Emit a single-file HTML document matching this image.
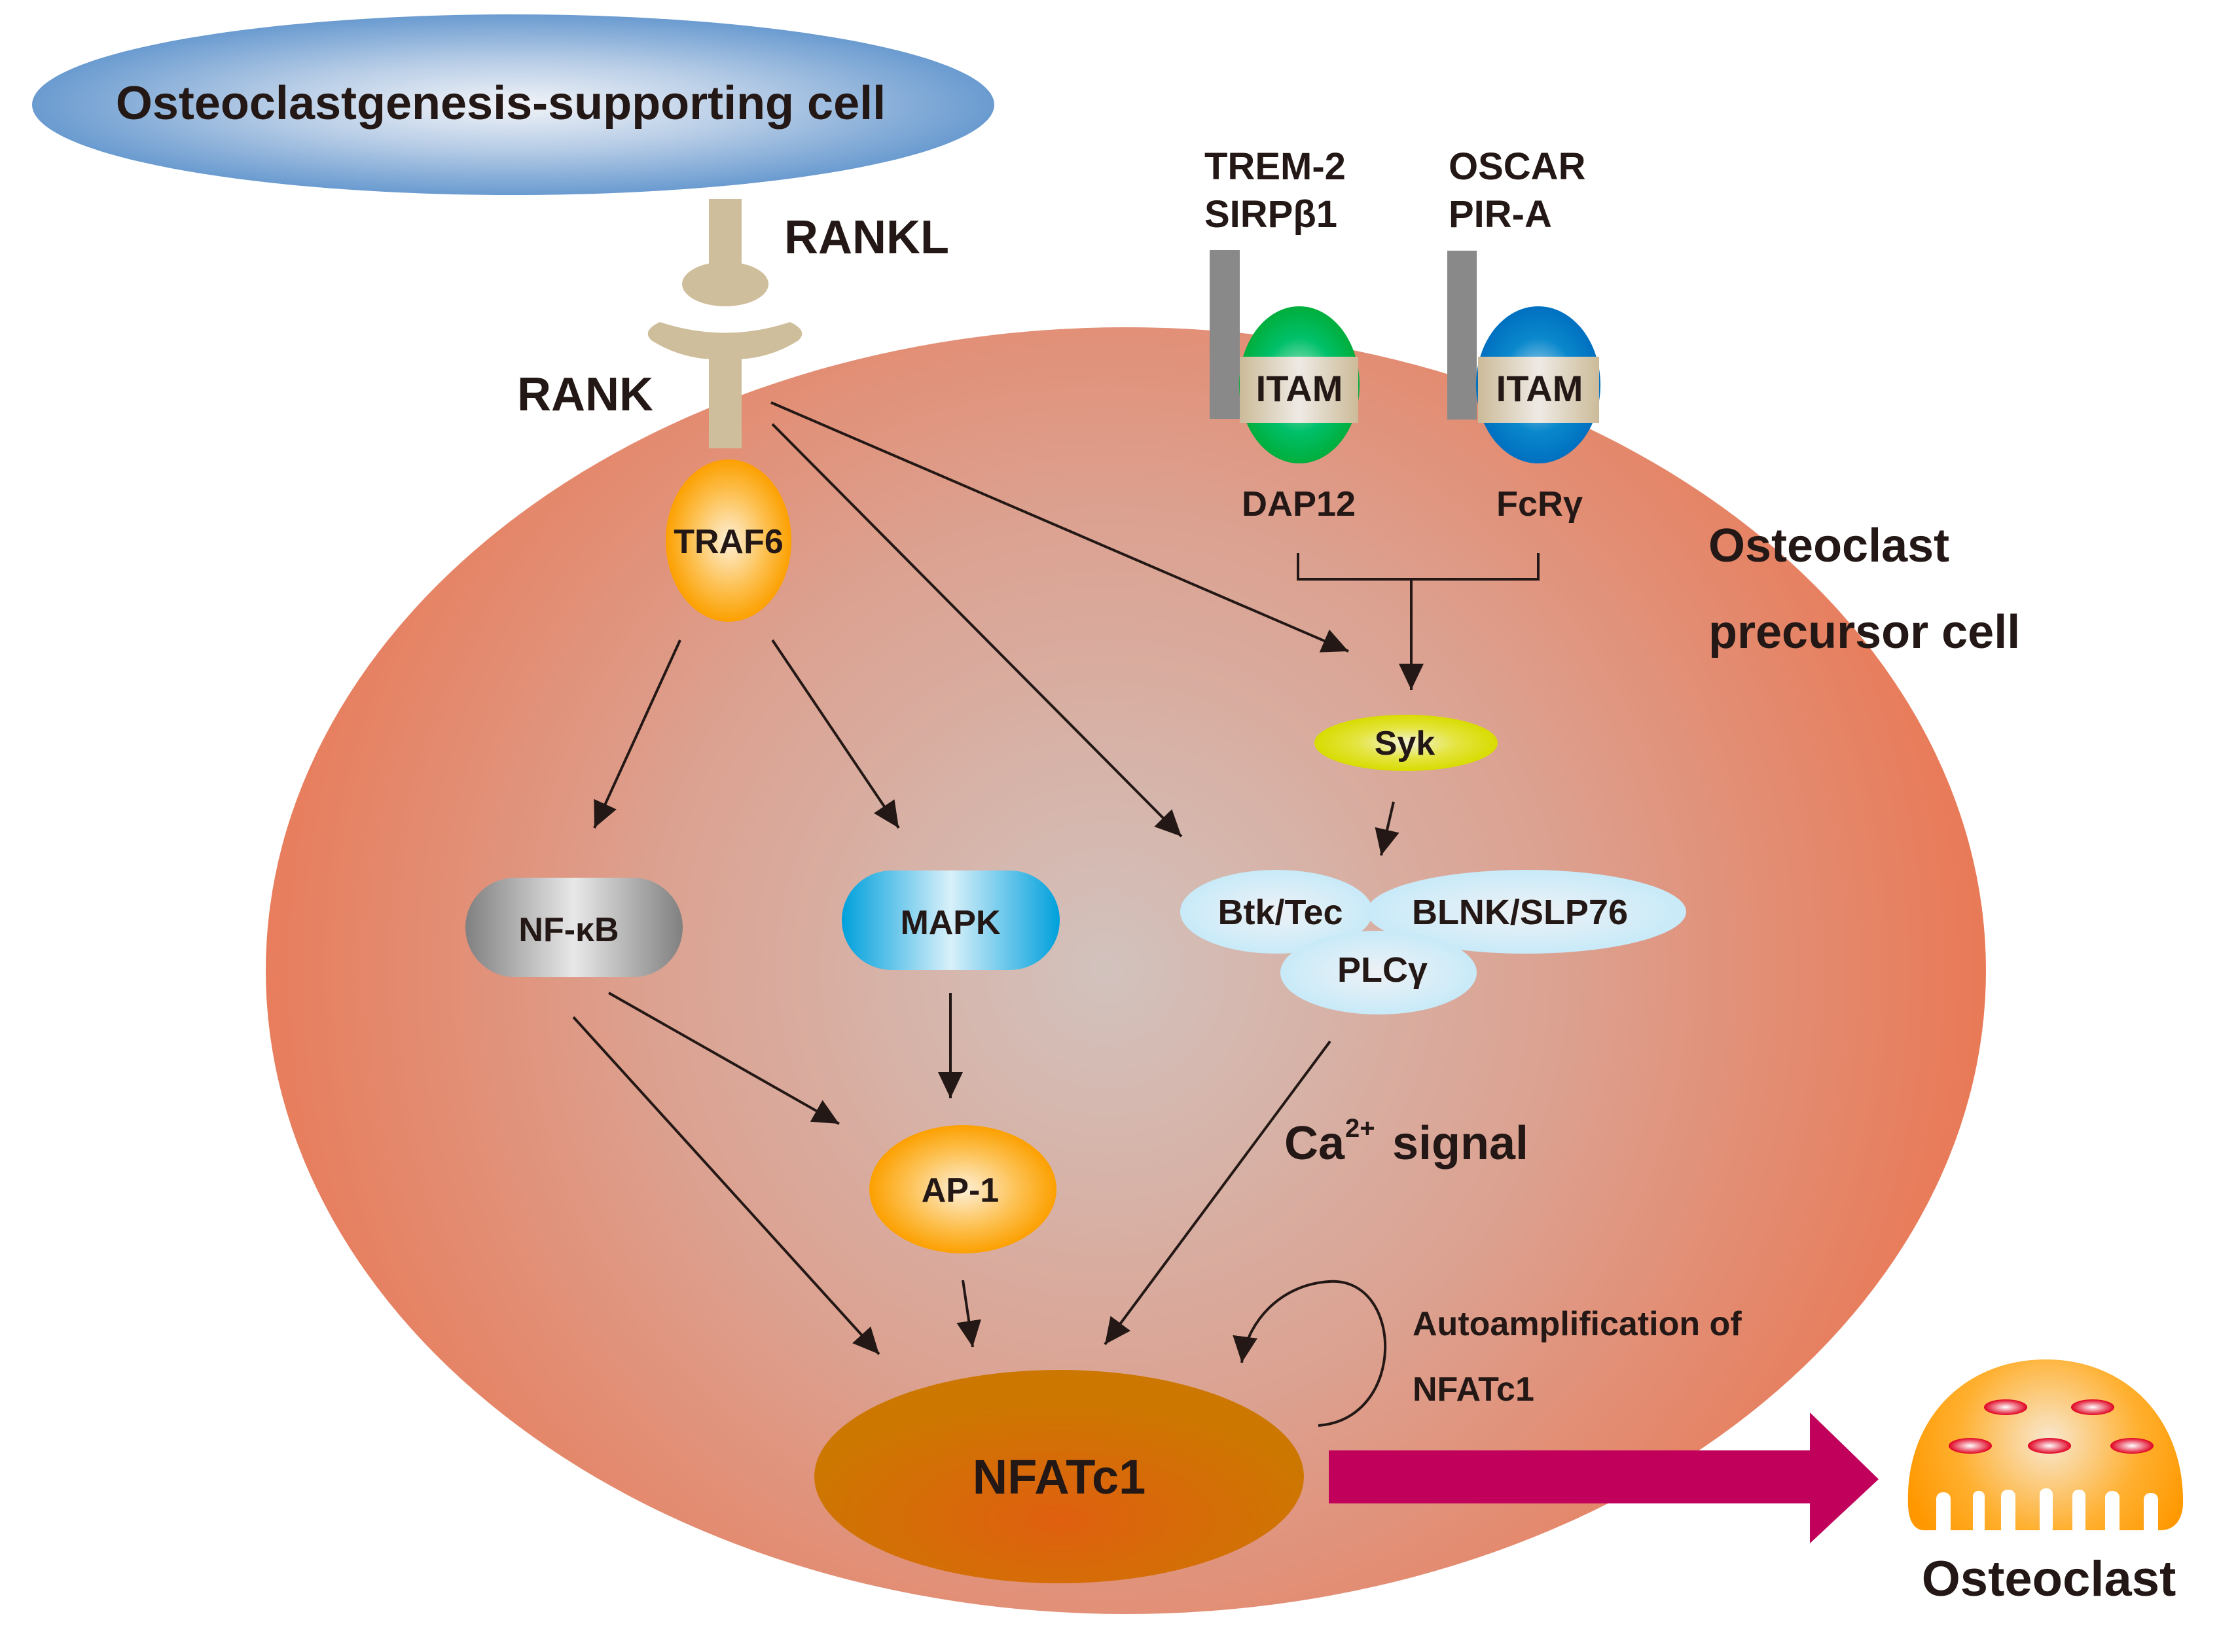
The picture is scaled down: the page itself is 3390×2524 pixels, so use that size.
<!DOCTYPE html>
<html><head><meta charset="utf-8"><style>
html,body{margin:0;padding:0;background:#fff}
svg{display:block}
text{font-family:"Liberation Sans",Arial,sans-serif;font-weight:bold;fill:#231815}
</style></head><body>
<svg width="3390" height="2524" viewBox="0 0 3390 2524" xmlns="http://www.w3.org/2000/svg">
<defs>
<radialGradient id="gTop" cx="50%" cy="50%" r="50%"><stop offset="0" stop-color="#f2f4f8"/><stop offset="0.5" stop-color="#b6cce6"/><stop offset="1" stop-color="#6a9bd0"/></radialGradient>
<radialGradient id="gCell" gradientUnits="userSpaceOnUse" cx="1690" cy="1480" r="1400"><stop offset="0" stop-color="#d2c2bd"/><stop offset="0.5" stop-color="#dca190"/><stop offset="1" stop-color="#ea7652"/></radialGradient>
<radialGradient id="gOr" cx="50%" cy="50%" r="50%"><stop offset="0" stop-color="#fdf0d8"/><stop offset="0.6" stop-color="#fdc050"/><stop offset="1" stop-color="#fca000"/></radialGradient>
<radialGradient id="gGreen" cx="50%" cy="50%" r="50%"><stop offset="0" stop-color="#c8ecd8"/><stop offset="0.6" stop-color="#00c06a"/><stop offset="1" stop-color="#00ae3c"/></radialGradient>
<radialGradient id="gBlue" cx="50%" cy="50%" r="50%"><stop offset="0" stop-color="#c8e0f0"/><stop offset="0.6" stop-color="#0a88cc"/><stop offset="1" stop-color="#0070c0"/></radialGradient>
<linearGradient id="gBand" x1="0" x2="1"><stop offset="0" stop-color="#ccbb99"/><stop offset="0.5" stop-color="#eeeae4"/><stop offset="1" stop-color="#ccbb99"/></linearGradient>
<linearGradient id="gGray" x1="0" x2="1"><stop offset="0" stop-color="#808080"/><stop offset="0.5" stop-color="#e8e8e8"/><stop offset="1" stop-color="#808080"/></linearGradient>
<linearGradient id="gMapk" x1="0" x2="1"><stop offset="0" stop-color="#00a0dc"/><stop offset="0.5" stop-color="#d8f0fa"/><stop offset="1" stop-color="#00a0dc"/></linearGradient>
<radialGradient id="gSyk" cx="50%" cy="50%" r="50%"><stop offset="0" stop-color="#f4f4d8"/><stop offset="0.55" stop-color="#e4e440"/><stop offset="1" stop-color="#d8dc00"/></radialGradient>
<radialGradient id="gLb" cx="50%" cy="50%" r="50%"><stop offset="0" stop-color="#eef2f6"/><stop offset="1" stop-color="#c8eaf8"/></radialGradient>
<radialGradient id="gNf" cx="50%" cy="70%" r="55%"><stop offset="0" stop-color="#e06010"/><stop offset="1" stop-color="#cc7700"/></radialGradient>
<radialGradient id="gNuc" cx="50%" cy="50%" r="50%"><stop offset="0" stop-color="#ffffff"/><stop offset="1" stop-color="#e00020"/></radialGradient>
<radialGradient id="gOc" gradientUnits="userSpaceOnUse" cx="3130" cy="2200" r="230"><stop offset="0" stop-color="#f8e8d0"/><stop offset="0.6" stop-color="#ffb030"/><stop offset="1" stop-color="#ff9800"/></radialGradient>
<marker id="ah" markerUnits="userSpaceOnUse" markerWidth="42" markerHeight="40" refX="40" refY="19" orient="auto"><path d="M0,0 L40,19 L0,38 z" fill="#231815"/></marker>
</defs>

<ellipse cx="784" cy="160" rx="735" ry="138" fill="url(#gTop)"/>
<text x="765" y="182" font-size="72" text-anchor="middle">Osteoclastgenesis-supporting cell</text>

<ellipse cx="1720" cy="1483" rx="1314" ry="983" fill="url(#gCell)"/>

<rect x="1083" y="304" width="50" height="110" fill="#cfbe9c"/>
<ellipse cx="1108" cy="434" rx="66" ry="34" fill="#cfbe9c"/>
<path d="M1008,492 Q1108,525 1207,492 Q1235,505 1220,520 Q1170,552 1108,549 Q1046,552 995,520 Q980,505 1008,492 z" fill="#cfbe9c"/>
<rect x="1083" y="540" width="50" height="145" fill="#cfbe9c"/>
<text x="1198" y="387" font-size="72">RANKL</text>
<text x="790" y="627" font-size="72">RANK</text>

<ellipse cx="1113" cy="826" rx="96" ry="124" fill="url(#gOr)"/>
<text x="1113" y="845" font-size="52" text-anchor="middle">TRAF6</text>

<text x="1840" y="274" font-size="58">TREM-2</text>
<text x="1840" y="347" font-size="58">SIRPβ1</text>
<text x="2213" y="274" font-size="58">OSCAR</text>
<text x="2213" y="347" font-size="58">PIR-A</text>
<rect x="1848" y="382" width="46" height="258" fill="#898989"/>
<rect x="2211" y="383" width="45" height="258" fill="#898989"/>
<ellipse cx="1985" cy="588" rx="92" ry="120" fill="url(#gGreen)"/>
<rect x="1894" y="545" width="181" height="101" fill="url(#gBand)"/>
<text x="1985" y="613" font-size="56" text-anchor="middle">ITAM</text>
<ellipse cx="2350" cy="588" rx="95" ry="120" fill="url(#gBlue)"/>
<rect x="2258" y="545" width="185" height="101" fill="url(#gBand)"/>
<text x="2352" y="613" font-size="56" text-anchor="middle">ITAM</text>
<text x="1897" y="788" font-size="54">DAP12</text>
<text x="2286" y="788" font-size="54">FcRγ</text>
<path d="M1983,845 V885 H2350 V845" fill="none" stroke="#231815" stroke-width="4"/>
<line x1="2156" y1="885" x2="2156" y2="1054" stroke="#231815" stroke-width="4" marker-end="url(#ah)"/>

<text x="2610" y="858" font-size="72">Osteoclast</text>
<text x="2610" y="990" font-size="72">precursor cell</text>

<ellipse cx="2148" cy="1135" rx="140" ry="43" fill="url(#gSyk)"/>
<text x="2146" y="1153" font-size="52" text-anchor="middle">Syk</text>

<ellipse cx="1950" cy="1393" rx="147" ry="64" fill="url(#gLb)"/>
<ellipse cx="2332" cy="1393" rx="244" ry="64" fill="url(#gLb)"/>
<ellipse cx="2106" cy="1486" rx="150" ry="64" fill="url(#gLb)"/>
<text x="1956" y="1412" font-size="54" text-anchor="middle">Btk/Tec</text>
<text x="2322" y="1412" font-size="54" text-anchor="middle">BLNK/SLP76</text>
<text x="2112" y="1500" font-size="54" text-anchor="middle">PLCγ</text>

<rect x="711" y="1341" width="332" height="152" rx="76" fill="url(#gGray)"/>
<text x="869" y="1438" font-size="52" text-anchor="middle">NF-κB</text>
<rect x="1286" y="1330" width="333" height="152" rx="76" fill="url(#gMapk)"/>
<text x="1452" y="1427" font-size="52" text-anchor="middle">MAPK</text>
<ellipse cx="1471" cy="1817" rx="143" ry="98" fill="url(#gOr)"/>
<text x="1467" y="1836" font-size="52" text-anchor="middle">AP-1</text>

<text x="1962" y="1771" font-size="72">Ca</text>
<text x="2055" y="1737" font-size="40">2+</text>
<text x="2127" y="1771" font-size="72">signal</text>

<ellipse cx="1618" cy="2256" rx="374" ry="163" fill="url(#gNf)"/>
<text x="1618" y="2282" font-size="74" text-anchor="middle">NFATc1</text>
<text x="2158" y="2040" font-size="52">Autoamplification of</text>
<text x="2158" y="2140" font-size="52">NFATc1</text>
<path d="M2014,2178 C2150,2168 2145,1950 2030,1958 C1955,1963 1905,2020 1897,2082" fill="none" stroke="#231815" stroke-width="4" marker-end="url(#ah)"/>

<g stroke="#231815" stroke-width="4" fill="none" marker-end="url(#ah)">
<line x1="1178" y1="615" x2="2060" y2="995"/>
<line x1="1180" y1="648" x2="1805" y2="1278"/>
<line x1="1039" y1="978" x2="908" y2="1265"/>
<line x1="1180" y1="978" x2="1373" y2="1265"/>
<line x1="2129" y1="1225" x2="2110" y2="1307"/>
<line x1="1452" y1="1517" x2="1452" y2="1678"/>
<line x1="930" y1="1517" x2="1282" y2="1717"/>
<line x1="876" y1="1554" x2="1343" y2="2069"/>
<line x1="1471" y1="1956" x2="1486" y2="2058"/>
<line x1="2032" y1="1591" x2="1688" y2="2054"/>
</g>

<path d="M2030,2216 H2765 V2158 L2870,2260 L2765,2358 V2297 H2030 z" fill="#c0005a"/>

<path d="M2915,2300 C2910,2170 3000,2077 3125,2077 C3250,2077 3338,2170 3335,2300 C3333,2325 3320,2338 3300,2338 L2940,2338 C2925,2338 2916,2325 2915,2300 z" fill="url(#gOc)"/>
<g fill="#fff">
<rect x="2958" y="2280" width="22" height="70" rx="10"/>
<rect x="3014" y="2278" width="18" height="70" rx="8"/>
<rect x="3057" y="2276" width="22" height="70" rx="10"/>
<rect x="3116" y="2274" width="20" height="70" rx="9"/>
<rect x="3166" y="2276" width="20" height="70" rx="9"/>
<rect x="3216" y="2278" width="22" height="70" rx="10"/>
<rect x="3275" y="2281" width="22" height="70" rx="10"/>
</g>
<g fill="url(#gNuc)">
<ellipse cx="3064" cy="2150" rx="33" ry="12"/>
<ellipse cx="3197" cy="2150" rx="33" ry="12"/>
<ellipse cx="3010" cy="2209" rx="33" ry="12"/>
<ellipse cx="3131" cy="2209" rx="33" ry="12"/>
<ellipse cx="3257" cy="2209" rx="33" ry="12"/>
</g>
<text x="3130" y="2438" font-size="76" text-anchor="middle">Osteoclast</text>
</svg>
</body></html>
